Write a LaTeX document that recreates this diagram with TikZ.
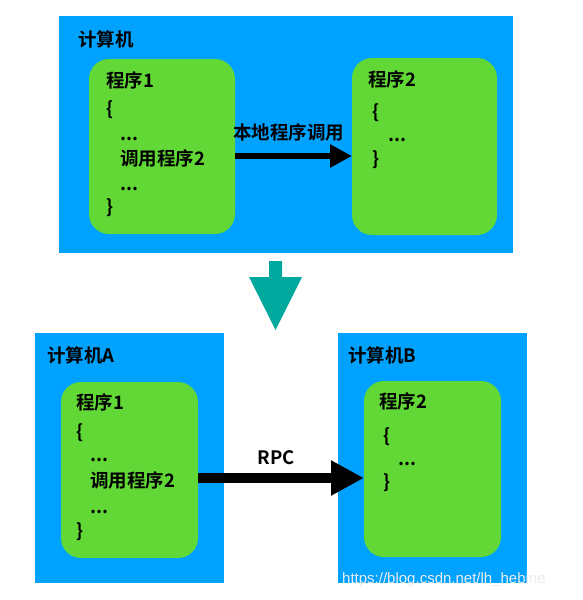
\documentclass[tikz,border=0pt]{standalone}
\usepackage{fontspec}
\setmainfont{Noto Sans CJK SC}[BoldFont={* Bold}]
\newfontfamily\wmfont{Liberation Sans}
\usetikzlibrary{arrows.meta}
\definecolor{macblue}{HTML}{00A2FF}
\definecolor{macgreen}{HTML}{61D836}
\definecolor{macteal}{HTML}{00A89D}
\tikzset{
  bluebox/.style={fill=macblue, draw=none, inner sep=0pt, outer sep=0pt, anchor=north west},
  greenbox/.style={fill=macgreen, draw=none, rounded corners=20pt, inner sep=0pt, outer sep=0pt, anchor=north west},
  txt/.style={anchor=west, inner sep=0pt, font=\fontsize{18.5}{22}\selectfont\bfseries, text=black},
  bigarrow/.style={line width=6pt, -{Triangle[length=22pt,width=22pt]}},
  rpcarrow/.style={line width=10pt, -{Triangle[length=33pt,width=33pt]}},
}
\begin{document}
\begin{tikzpicture}[x=1pt,y=-1pt]
\useasboundingbox (0,0) rectangle (583,600);
% top computer
\node[bluebox, minimum width=454pt, minimum height=237pt] (pc) at (59,16) {};
\node[txt] (pclabel) at (78,39) {计算机};
\node[greenbox, minimum width=146pt, minimum height=175pt] (p1) at (89,59) {};
\node[greenbox, minimum width=145pt, minimum height=177pt] (p2) at (352,58) {};
\node[txt] (p1t) at (106,80) {程序1};
\node[txt] (p1a) at (106,110) {\{};
\node[txt] (p1b) at (120,139) {...};
\node[txt] (p1c) at (120,158) {调用程序2};
\node[txt] (p1d) at (120,189) {...};
\node[txt] (p1e) at (106,208) {\}};
\node[txt] (p2t) at (368,79) {程序2};
\node[txt] (p2a) at (372,113) {\{};
\node[txt] (p2b) at (388,140) {...};
\node[txt] (p2c) at (372,160) {\}};
\coordinate (ya) at (0,156);
\draw[bigarrow] (p1.east |- ya) -- (p2.west |- ya);
\node[txt] (local) at (233,132) {本地程序调用};
% teal down arrow
\fill[macteal] (269,261) -- (282,261) -- (282,277) -- (302,277) -- (275.5,330) -- (249,277) -- (269,277) -- cycle;
% bottom computers
\node[bluebox, minimum width=189pt, minimum height=250pt] (pca) at (35,333) {};
\node[bluebox, minimum width=189pt, minimum height=250pt] (pcb) at (338,333) {};
\node[txt] (pcal) at (47,355) {计算机A};
\node[txt] (pcbl) at (348,355) {计算机B};
\node[greenbox, minimum width=137pt, minimum height=176pt] (q1) at (61,382) {};
\node[greenbox, minimum width=137pt, minimum height=176pt] (q2) at (364,381) {};
\node[txt] (q1t) at (76,402) {程序1};
\node[txt] (q1a) at (76,433) {\{};
\node[txt] (q1b) at (90,460) {...};
\node[txt] (q1c) at (90,480) {调用程序2};
\node[txt] (q1d) at (90,512) {...};
\node[txt] (q1e) at (76,532) {\}};
\node[txt] (q2t) at (379,401) {程序2};
\node[txt] (q2a) at (383,437) {\{};
\node[txt] (q2b) at (398,464) {...};
\node[txt] (q2c) at (383,483) {\}};
\coordinate (yb) at (0,478);
\draw[rpcarrow] (q1.east |- yb) -- (q2.west |- yb);
\node[txt, anchor=center] (rpc) at (276,458) {RPC};
% watermark
\node[anchor=west, inner sep=0pt, font=\wmfont\fontsize{15}{17}\selectfont, text=white!85!gray] (wm) at (342,580) {https://blog.csdn.net/lh\_hebine};
\end{tikzpicture}
\end{document}
